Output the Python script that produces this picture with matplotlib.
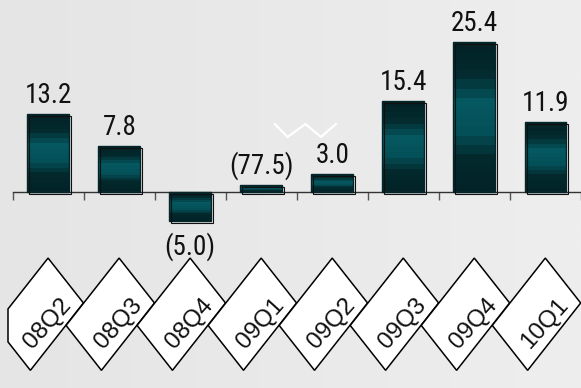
import numpy as np
import matplotlib
matplotlib.use("Agg")
import matplotlib.pyplot as plt
from matplotlib import font_manager
from matplotlib.colors import LinearSegmentedColormap
from matplotlib.patches import Polygon, Rectangle
from matplotlib.transforms import Affine2D, ScaledTranslation

# quarterly values, negatives shown in parentheses
quarters = ["08Q2", "08Q3", "08Q4", "09Q1", "09Q2", "09Q3", "09Q4", "10Q1"]
values = [13.2, 7.8, -5.0, -77.5, 3.0, 15.4, 25.4, 11.9]
# 09Q1 is off the scale: only a short stub is drawn, with a break mark
broken = 3
stub_height = 1.1

bar_heights = [stub_height if i == broken else v for i, v in enumerate(values)]

installed = {f.name for f in font_manager.fontManager.ttflist}
num_font, num_size = next(((f, s) for f, s in (("Liberation Sans Narrow", 20),
                                               ("Arimo Narrow", 20),
                                               ("Roboto Condensed", 19.5),
                                               ("Archivo Narrow", 21.5))
                           if f in installed), ("Liberation Sans", 17))
cat_font = "Liberation Sans"

W, H, DPI = 581, 388, 100
fig = plt.figure(figsize=(W / DPI, H / DPI), dpi=DPI)

# soft grey backdrop, a touch lighter on the right
bg = fig.add_axes([0, 0, 1, 1], zorder=-10)
bg.imshow(np.linspace(0, 1, 256)[None, :], aspect="auto", extent=(0, 1, 0, 1),
          cmap=LinearSegmentedColormap.from_list("bg", ["#e5e5e5", "#eeeeee"]))
bg.set_axis_off()

left_px = 12.7
ax = fig.add_axes([left_px / W, 0, 1 - left_px / W, 1])
ax.patch.set_alpha(0)
ax.set_xlim(-0.5, -0.5 + (W - left_px) / 72.6)
ax.set_ylim(-33.4, 32.6)

for side in ("top", "right", "left"):
    ax.spines[side].set_visible(False)
ax.spines["bottom"].set_position(("data", 0))
ax.spines["bottom"].set_color("#333333")
ax.spines["bottom"].set_linewidth(1.0)
ax.set_xticks(np.arange(-0.5, len(quarters), 1))
ax.set_yticks([])
ax.tick_params(axis="x", direction="out", length=6, width=1, color="#555555",
               labelbottom=False)

# dark-light-dark banded teal fill
teal = LinearSegmentedColormap.from_list(
    "teal", ["#022226", "#032b30", "#055860", "#045058", "#03292d", "#022428"], N=16)
grad = np.linspace(0, 1, 64)[:, None]

x = np.arange(len(quarters))
bars = ax.bar(x, bar_heights, width=0.59, facecolor="none", edgecolor="#04262a",
              linewidth=1.0, zorder=3)
shift = ScaledTranslation(2 / DPI, -2 / DPI, fig.dpi_scale_trans)
for b in bars:
    x0, y0 = b.get_x(), b.get_y()
    w, h = b.get_width(), b.get_height()
    lo, hi = min(y0, y0 + h), max(y0, y0 + h)
    img = ax.imshow(grad, cmap=teal, aspect="auto", origin="upper",
                    extent=(x0, x0 + w, lo, hi), zorder=2, interpolation="nearest")
    img.set_clip_path(b)
    ax.add_patch(Rectangle((x0, lo), w, hi - lo, facecolor="none",
                           edgecolor="#101010", linewidth=0.8,
                           transform=ax.transData + shift, zorder=4))

# value labels
for i, (v, hgt) in enumerate(zip(values, bar_heights)):
    txt = f"({abs(v):.1f})" if v < 0 else f"{v:.1f}"
    if hgt >= 0:
        ax.annotate(txt, (i, hgt), xytext=(0, 8), textcoords="offset points",
                    ha="center", va="baseline", fontsize=num_size, family=num_font,
                    color="#111111")
    else:
        ax.annotate(txt, (i, hgt), xytext=(0, -8), textcoords="offset points",
                    ha="center", va="top", fontsize=num_size, family=num_font,
                    color="#111111")

# break mark above the truncated bar
ax.plot(broken + np.array([0.19, 0.37, 0.62, 0.84, 1.05]),
        [11.5, 9.3, 11.5, 9.3, 11.5], color="white", lw=1.6, zorder=5,
        solid_joinstyle="miter")


def clip_left(pts, xmin):
    # keep the part of a polygon that lies right of xmin
    out = []
    n = len(pts)
    for k in range(n):
        p, q = pts[k], pts[(k + 1) % n]
        pin, qin = p[0] >= xmin, q[0] >= xmin
        if pin:
            out.append(p)
        if pin != qin:
            t = (xmin - p[0]) / (q[0] - p[0])
            out.append(p + t * (q - p))
    return np.array(out)


# slanted label tags under the axis
box = np.array([[-37.5, -25], [37.5, -25], [37.5, 25], [-37.5, 25]])
for i, q in enumerate(quarters):
    cx = ax.transData.transform((i, 0))[0]
    pts = Affine2D().rotate_deg(45).scale(1, 1.27).translate(cx - 9, 73.8).transform(box)
    pts = clip_left(pts, 8)
    fig.add_artist(Polygon(pts / DPI, closed=True, facecolor="white", edgecolor="black",
                           linewidth=1.1, transform=fig.dpi_scale_trans, zorder=10 + 2 * i))
    fig.text((cx - 1) / DPI, 64 / DPI, q, transform=fig.dpi_scale_trans, rotation=48,
             rotation_mode="anchor", ha="center", va="center", fontsize=17.5,
             family=cat_font, color="#111111", zorder=11 + 2 * i)

fig.savefig("out.png", dpi=DPI)
